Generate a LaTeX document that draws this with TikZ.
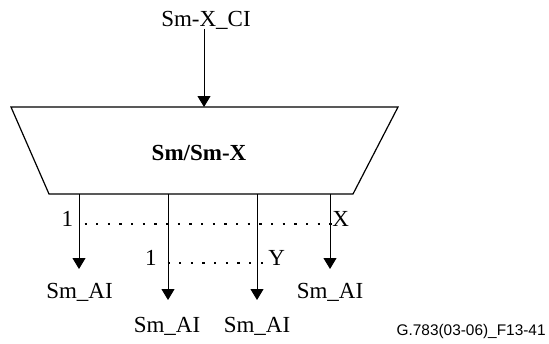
\documentclass[tikz,border=0pt]{standalone}
\usepackage{fontspec}
\setmainfont{Liberation Serif}
\newfontfamily\figfont{Liberation Sans}
\usetikzlibrary{arrows.meta,positioning}
\tikzset{
  FB/.style={draw,line width=0.6pt,line join=miter},
  title/.style={inner sep=0pt,font=\fontsize{11.5}{13}\selectfont\bfseries},
  sig/.style={inner sep=0pt,font=\fontsize{11.5}{13}\selectfont},
  arr/.style={-{Triangle[length=5.5pt,width=6.5pt]},line width=0.5pt},
  dots/.style={line width=1.1pt,dash pattern=on 1.1pt off 4.73pt}
}

\begin{document}
\begin{tikzpicture}[x=0.5pt,y=-0.5pt]
  \useasboundingbox (0,0) rectangle (549,343);
  % the block
  \coordinate (tl) at (11,107);
  \coordinate (tr) at (398,107);
  \coordinate (br) at (353,194);
  \coordinate (bl) at (49,194);
  \draw[FB] (tl) -- (tr) -- (br) -- (bl) -- cycle;
  \node[title,anchor=base] (mux) at (199,160) {Sm/Sm-X};
  \coordinate (in) at (204,107);
  \node[sig,anchor=base] (ci) at (206,26) {Sm-X\_CI};
  \draw[arr] (ci.south -| in) -- (in);
  % outputs
  \coordinate (t1) at (79,269);
  \coordinate (t2) at (168,300);
  \coordinate (t3) at (257,300);
  \coordinate (t4) at (330,269);
  \foreach \t in {t1,t2,t3,t4}
    \draw[arr] (\t |- bl) -- (\t);
  \node[sig,anchor=base] (ai1) at (79.5,298) {Sm\_AI};
  \node[sig,anchor=base] (ai2) at (167,332) {Sm\_AI};
  \node[sig,anchor=base] (ai3) at (257,332) {Sm\_AI};
  \node[sig,anchor=base] (ai4) at (330,298) {Sm\_AI};
  % ranges
  \node[sig,anchor=base east] (n1) at (73.5,226.5) {1};
  \node[sig,anchor=base west] (nx) at (332,226.5) {X};
  \node[sig,anchor=base east] (m1) at (157,265) {1};
  \node[sig,anchor=base west] (my) at (268,265) {Y};
  \draw[dots] (84.5,224.3) -- (nx.west |- 0,224.3);
  \draw[dots] (167.5,263.3) -- (my.west |- 0,263.3);
  \node[anchor=base east,inner sep=0pt,font=\figfont\fontsize{7.7}{9}\selectfont]
    (tag) at (546,335) {G.783(03-06)\_F13-41};
\end{tikzpicture}
\end{document}
